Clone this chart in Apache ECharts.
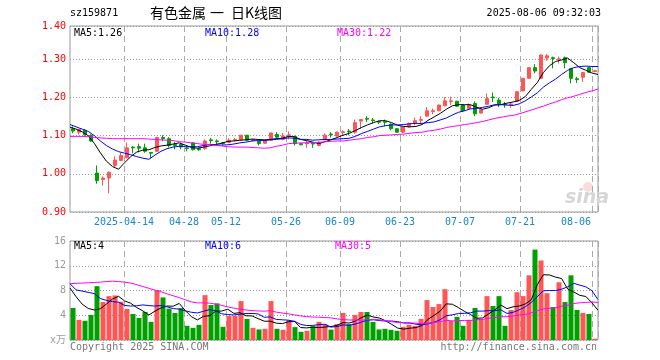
<!DOCTYPE html>
<html><head><meta charset="utf-8">
<script src="https://cdn.jsdelivr.net/npm/echarts@6/dist/echarts.min.js"></script>
<style>html,body{margin:0;padding:0;background:#fff}#c{width:660px;height:360px}</style>
</head><body><div id="c"></div>
<script>
const dates = ['2025-03-31','2025-04-01','2025-04-02','2025-04-03','2025-04-07','2025-04-08','2025-04-09','2025-04-10','2025-04-11','2025-04-14',
'2025-04-15','2025-04-16','2025-04-17','2025-04-18','2025-04-21','2025-04-22','2025-04-23','2025-04-24','2025-04-25','2025-04-28',
'2025-04-29','2025-04-30','2025-05-06','2025-05-07','2025-05-08','2025-05-09','2025-05-12','2025-05-13','2025-05-14','2025-05-15',
'2025-05-16','2025-05-19','2025-05-20','2025-05-21','2025-05-22','2025-05-23','2025-05-26','2025-05-27','2025-05-28','2025-05-29',
'2025-05-30','2025-06-03','2025-06-04','2025-06-05','2025-06-06','2025-06-09','2025-06-10','2025-06-11','2025-06-12','2025-06-13',
'2025-06-16','2025-06-17','2025-06-18','2025-06-19','2025-06-20','2025-06-23','2025-06-24','2025-06-25','2025-06-26','2025-06-27',
'2025-06-30','2025-07-01','2025-07-02','2025-07-03','2025-07-04','2025-07-07','2025-07-08','2025-07-09','2025-07-10','2025-07-11',
'2025-07-14','2025-07-15','2025-07-16','2025-07-17','2025-07-18','2025-07-21','2025-07-22','2025-07-23','2025-07-24','2025-07-25',
'2025-07-28','2025-07-29','2025-07-30','2025-07-31','2025-08-01','2025-08-04','2025-08-05','2025-08-06'];

const opens = [1.118,1.109,1.114,1.101,1.002,0.985,0.989,1.022,1.035,1.042,
1.070,1.071,1.068,1.056,1.059,1.095,1.092,1.077,1.077,1.068,
1.081,1.066,1.066,1.089,1.086,1.082,1.082,1.088,1.089,1.101,
1.087,1.085,1.080,1.088,1.103,1.090,1.100,1.098,1.079,1.079,
1.080,1.074,1.089,1.104,1.099,1.108,1.112,1.109,1.138,1.145,
1.141,1.137,1.137,1.130,1.118,1.109,1.123,1.132,1.140,1.151,
1.163,1.165,1.178,1.189,1.190,1.180,1.171,1.184,1.159,1.182,
1.201,1.193,1.183,1.181,1.190,1.217,1.250,1.278,1.250,1.303,
1.304,1.299,1.304,1.276,1.249,1.253,1.278,1.268];

const closes = [1.112,1.116,1.102,1.086,0.982,0.989,1.004,1.036,1.048,1.068,
1.068,1.067,1.059,1.054,1.095,1.092,1.074,1.074,1.070,1.066,
1.063,1.063,1.086,1.087,1.084,1.079,1.088,1.090,1.101,1.088,
1.090,1.079,1.086,1.107,1.096,1.099,1.102,1.079,1.076,1.081,
1.078,1.083,1.101,1.102,1.109,1.110,1.110,1.134,1.142,1.143,
1.139,1.135,1.135,1.118,1.109,1.123,1.132,1.139,1.142,1.165,
1.165,1.180,1.191,1.191,1.177,1.165,1.180,1.157,1.168,1.197,
1.199,1.182,1.181,1.183,1.215,1.250,1.278,1.269,1.311,1.309,
1.302,1.301,1.291,1.250,1.247,1.265,1.266,1.270];

const lows = [1.106,1.103,1.100,1.083,0.974,0.969,0.949,1.017,1.033,1.040,
1.054,1.056,1.055,1.040,1.058,1.085,1.069,1.064,1.064,1.059,
1.061,1.060,1.063,1.079,1.077,1.076,1.080,1.085,1.088,1.087,
1.085,1.074,1.079,1.087,1.092,1.088,1.090,1.074,1.075,1.068,
1.068,1.073,1.088,1.095,1.098,1.101,1.101,1.105,1.118,1.136,
1.132,1.130,1.124,1.114,1.107,1.107,1.121,1.127,1.132,1.150,
1.156,1.164,1.177,1.180,1.176,1.163,1.167,1.151,1.158,1.181,
1.188,1.175,1.173,1.173,1.189,1.216,1.249,1.263,1.249,1.296,
1.276,1.289,1.276,1.237,1.238,1.241,1.265,1.266];

const highs = [1.124,1.118,1.117,1.103,1.022,0.993,1.006,1.046,1.055,1.082,
1.072,1.079,1.079,1.057,1.096,1.101,1.096,1.083,1.081,1.073,
1.083,1.068,1.090,1.094,1.090,1.083,1.093,1.094,1.102,1.102,
1.091,1.087,1.088,1.108,1.109,1.107,1.111,1.100,1.080,1.088,
1.083,1.085,1.106,1.109,1.111,1.114,1.117,1.142,1.143,1.151,
1.146,1.139,1.142,1.132,1.120,1.124,1.134,1.147,1.151,1.175,
1.171,1.181,1.201,1.202,1.191,1.181,1.184,1.190,1.170,1.210,
1.213,1.199,1.188,1.187,1.217,1.251,1.279,1.287,1.313,1.313,
1.307,1.307,1.307,1.277,1.254,1.266,1.279,1.272];

const ma5 = [1.122,1.117,1.110,1.100,1.080,1.055,1.033,1.019,1.012,1.029,
1.045,1.057,1.062,1.063,1.069,1.073,1.075,1.078,1.081,1.075,
1.069,1.067,1.070,1.073,1.077,1.080,1.085,1.086,1.088,1.089,
1.091,1.090,1.089,1.090,1.092,1.093,1.098,1.097,1.090,1.087,
1.083,1.079,1.084,1.089,1.095,1.101,1.106,1.113,1.121,1.128,
1.134,1.139,1.139,1.134,1.127,1.124,1.123,1.124,1.129,1.140,
1.149,1.158,1.169,1.178,1.181,1.181,1.181,1.174,1.169,1.173,
1.180,1.181,1.185,1.188,1.192,1.202,1.221,1.239,1.265,1.283,
1.294,1.298,1.303,1.291,1.278,1.271,1.264,1.260];

const ma10 = [1.129,1.123,1.117,1.111,1.100,1.086,1.074,1.065,1.058,1.054,
1.050,1.045,1.041,1.038,1.049,1.059,1.066,1.070,1.072,1.072,
1.071,1.071,1.074,1.077,1.076,1.075,1.076,1.078,1.081,1.083,
1.086,1.087,1.087,1.089,1.090,1.092,1.094,1.093,1.090,1.090,
1.088,1.089,1.090,1.090,1.091,1.092,1.093,1.098,1.105,1.111,
1.117,1.123,1.126,1.128,1.128,1.129,1.131,1.132,1.132,1.134,
1.136,1.141,1.146,1.154,1.161,1.165,1.170,1.171,1.174,1.177,
1.181,1.181,1.180,1.179,1.183,1.191,1.201,1.212,1.227,1.238,
1.248,1.260,1.271,1.278,1.281,1.282,1.281,1.281];

const ma30 = [1.098,1.098,1.098,1.097,1.095,1.094,1.093,1.092,1.092,1.092,
1.092,1.092,1.092,1.091,1.090,1.089,1.088,1.087,1.084,1.083,
1.081,1.079,1.077,1.076,1.074,1.073,1.071,1.070,1.070,1.070,
1.069,1.068,1.067,1.068,1.072,1.075,1.079,1.080,1.081,1.081,
1.082,1.082,1.084,1.085,1.086,1.086,1.088,1.090,1.092,1.095,
1.097,1.100,1.101,1.102,1.103,1.104,1.106,1.108,1.109,1.112,
1.114,1.117,1.121,1.124,1.126,1.129,1.131,1.134,1.137,1.141,
1.145,1.148,1.151,1.153,1.157,1.162,1.167,1.172,1.177,1.183,
1.188,1.194,1.199,1.203,1.208,1.213,1.217,1.222];

const volumes = [5.17,3.25,3.10,4.05,8.70,6.13,7.09,7.20,6.19,5.01,
4.21,3.57,4.53,2.93,8.05,6.88,5.07,4.37,5.17,2.29,
1.97,2.45,7.25,5.65,5.92,2.13,3.89,3.89,6.29,3.41,
1.97,1.71,1.81,6.29,1.81,1.65,3.20,2.08,1.33,1.49,
2.24,2.93,2.51,1.68,2.56,4.37,2.56,4.05,4.53,4.53,
2.93,1.71,1.81,1.65,1.49,2.13,2.45,2.29,3.41,6.45,
5.33,5.81,8.21,3.09,3.73,2.29,3.25,5.17,3.41,7.09,
5.49,7.09,2.29,4.85,7.73,7.09,10.45,14.61,12.85,7.57,
5.33,9.33,6.13,10.45,4.85,4.37,4.21,0.21];

const vma5 = [8.40,7.00,5.80,5.10,4.85,5.05,5.81,6.63,7.06,6.32,
5.94,5.24,4.70,4.05,4.66,5.19,5.49,5.46,5.91,4.76,
3.77,3.25,3.83,3.92,4.65,4.68,4.97,4.30,4.42,3.92,
3.89,3.45,3.04,3.04,2.72,2.65,2.95,3.01,2.01,1.95,
2.07,2.01,2.10,2.17,2.38,2.81,2.74,3.04,3.61,4.01,
3.72,3.55,3.10,2.53,1.92,1.76,1.91,2.00,2.35,3.35,
3.99,4.66,5.84,5.78,5.23,4.63,4.11,3.51,3.57,4.24,
4.88,5.65,5.07,5.36,5.49,5.81,6.48,8.95,10.55,10.51,
10.16,9.94,8.24,7.76,7.22,7.03,6.00,4.82];

const vma10 = [9.10,8.10,7.90,7.70,7.50,6.70,6.40,6.20,6.10,5.59,
5.49,5.53,5.67,5.56,5.49,5.57,5.36,5.08,4.98,4.71,
4.48,4.37,4.64,4.92,4.70,4.23,4.11,4.06,4.17,4.29,
4.29,4.21,3.67,3.73,3.32,3.27,3.20,3.02,2.53,2.33,
2.36,2.48,2.55,2.09,2.17,2.44,2.38,2.57,2.89,3.20,
3.27,3.14,3.07,3.07,2.96,2.74,2.73,2.55,2.44,2.63,
2.87,3.28,3.92,4.07,4.29,4.31,4.39,4.67,4.67,4.74,
4.75,4.88,4.29,4.47,4.87,5.35,6.07,7.01,7.95,8.00,
7.99,8.21,8.59,9.15,8.87,8.59,7.97,6.53];

const vma30 = [9.10,9.15,9.20,9.25,9.30,9.35,9.45,9.50,9.45,9.35,
9.20,8.95,8.65,8.35,8.05,7.80,7.45,7.15,6.85,6.50,
6.15,6.00,6.00,5.95,5.80,5.60,5.35,5.15,4.95,4.86,
4.75,4.70,4.66,4.73,4.50,4.36,4.23,4.05,3.89,3.78,
3.71,3.69,3.62,3.58,3.40,3.31,3.23,3.22,3.20,3.27,
3.30,3.28,3.10,2.96,2.82,2.82,2.77,2.72,2.62,2.72,
2.83,2.97,3.18,3.08,3.14,3.16,3.16,3.27,3.34,3.52,
3.63,3.77,3.76,3.87,4.04,4.13,4.39,4.75,5.02,5.12,
5.20,5.46,5.60,5.90,6.01,6.08,6.14,6.07];

const labelDates = ['2025-04-14','2025-04-28','2025-05-12','2025-05-26','2025-06-09','2025-06-23','2025-07-07','2025-07-21','2025-08-06'];
const priceMin = 0.9, priceMax = 1.387, priceStep = 0.1, priceTopLabel = '1.40';
const volMin = 0, volMax = 16, volStep = 4, volUnit = 'x万';
const headerCode = 'sz159871', headerTitle = ['有色金属', '一', '日K线图'], headerTime = '2025-08-06 09:32:03';
const priceLegend = ['MA5:1.26','MA10:1.28','MA30:1.22'];
const volLegend = ['MA5:4','MA10:6','MA30:5'];
const copyText = 'Copyright 2025 SINA.COM', urlText = 'http://finance.sina.com.cn';

const UP = '#ff5555', DOWN = '#00a000';
const C5 = '#000000', C10 = '#0000ff', C30 = '#ff00ff';
const MONO = '"DejaVu Sans Mono", "Noto Sans CJK SC", monospace';
const CJK = '14px "Noto Sans CJK SC"';
const XCOL = '#1a86d0';

const labelSet = new Set(labelDates.map(d => dates.indexOf(d)));
const firstLabel = dates.indexOf(labelDates[0]);
const lastIdx = dates.length - 1;

const chart = echarts.init(document.getElementById('c'), null, {renderer: 'canvas'});

const vSplit = {show: true, interval: (i) => labelSet.has(i), lineStyle: {color: '#aaaaaa', type: [6, 4], width: 1}};
const hSplit = {show: true, lineStyle: {color: '#999999', type: [1, 2], width: 1}};

function txt(text, x, y, fill, font, align) {
  return {type: 'text', x: x, y: y, silent: true, z: 100,
    style: {text: text, fill: fill, font: font, textAlign: align || 'left', textVerticalAlign: 'middle', align: align || 'left', verticalAlign: 'middle'}};
}

const option = {
  animation: false,
  backgroundColor: '#ffffff',
  grid: [
    {left: 70, right: 62, top: 26, height: 186, show: true, borderColor: '#999999', borderWidth: 1},
    {left: 70, right: 62, top: 241, height: 99, show: true, borderColor: '#999999', borderWidth: 1}
  ],
  xAxis: [
    {type: 'category', gridIndex: 0, data: dates, boundaryGap: true,
      axisLine: {show: false}, axisTick: {show: false},
      axisLabel: {interval: (i) => labelSet.has(i), margin: 5, color: XCOL, fontFamily: MONO, fontSize: 10,
        formatter: (v, i) => {
          const t = (i === firstLabel) ? v : v.slice(5);
          return (i === lastIdx) ? '{e|' + t + '}' : '{n|' + t + '}';
        },
        rich: {
          n: {padding: [0, 6, 0, 0], color: XCOL, fontFamily: MONO, fontSize: 10},
          e: {padding: [0, 38, 0, 0], color: XCOL, fontFamily: MONO, fontSize: 10}
        }},
      splitLine: vSplit},
    {type: 'category', gridIndex: 0, data: dates, boundaryGap: false, show: false},
    {type: 'category', gridIndex: 1, data: dates, boundaryGap: true,
      axisLine: {show: false}, axisTick: {show: false}, axisLabel: {show: false}, splitLine: vSplit},
    {type: 'category', gridIndex: 1, data: dates, boundaryGap: false, show: false}
  ],
  yAxis: [
    {type: 'value', gridIndex: 0, min: priceMin, max: priceMax, interval: priceStep, scale: false,
      axisLine: {show: false}, axisTick: {show: false},
      axisLabel: {color: '#ff0000', fontFamily: MONO, fontSize: 10, margin: 4,
        formatter: (v) => (v > priceMax - 0.001) ? priceTopLabel : v.toFixed(2)},
      splitLine: hSplit},
    {type: 'value', gridIndex: 1, min: volMin, max: volMax, interval: volStep,
      axisLine: {show: false}, axisTick: {show: false},
      axisLabel: {color: '#999999', fontFamily: MONO, fontSize: 10, margin: 4,
        formatter: (v) => v === 0 ? volUnit : String(v)},
      splitLine: hSplit}
  ],
  series: [
    {type: 'candlestick', xAxisIndex: 0, yAxisIndex: 0, barWidth: 4,
      data: opens.map((o, i) => [o, closes[i], lows[i], highs[i]]),
      itemStyle: {color: UP, color0: DOWN, borderColor: UP, borderColor0: DOWN, borderWidth: 1}, z: 2},
    {type: 'line', xAxisIndex: 1, yAxisIndex: 0, data: ma5, symbol: 'none', lineStyle: {color: C5, width: 1}, z: 5},
    {type: 'line', xAxisIndex: 1, yAxisIndex: 0, data: ma10, symbol: 'none', lineStyle: {color: C10, width: 1}, z: 5},
    {type: 'line', xAxisIndex: 1, yAxisIndex: 0, data: ma30, symbol: 'none', lineStyle: {color: C30, width: 1}, z: 5},
    {type: 'bar', xAxisIndex: 2, yAxisIndex: 1, barWidth: 5,
      data: volumes.map((v, i) => ({value: v, itemStyle: {color: closes[i] >= opens[i] ? UP : DOWN}})), z: 2},
    {type: 'line', xAxisIndex: 3, yAxisIndex: 1, data: vma5, symbol: 'none', lineStyle: {color: C5, width: 1}, z: 5},
    {type: 'line', xAxisIndex: 3, yAxisIndex: 1, data: vma10, symbol: 'none', lineStyle: {color: C10, width: 1}, z: 5},
    {type: 'line', xAxisIndex: 3, yAxisIndex: 1, data: vma30, symbol: 'none', lineStyle: {color: C30, width: 1}, z: 5}
  ],
  graphic: [
    txt(headerCode, 70, 13, '#000', '10px ' + MONO),
    txt(headerTitle[0], 150, 13, '#000', CJK),
    txt(headerTitle[1], 210, 13, '#000', CJK),
    txt(headerTitle[2], 231, 13, '#000', CJK),
    txt(headerTime, 601, 13, '#000', '10px ' + MONO, 'right'),
    txt(priceLegend[0], 74, 33, C5, '10px ' + MONO),
    txt(priceLegend[1], 205, 33, C10, '10px ' + MONO),
    txt(priceLegend[2], 337, 33, C30, '10px ' + MONO),
    txt(volLegend[0], 74, 246, C5, '10px ' + MONO),
    txt(volLegend[1], 205, 246, C10, '10px ' + MONO),
    txt(volLegend[2], 335, 246, C30, '10px ' + MONO),
    txt(copyText, 70, 347, '#777', '10px ' + MONO),
    txt(urlText, 597, 347, '#777', '10px ' + MONO, 'right'),
    {type: 'circle', shape: {cx: 588, cy: 187, r: 5}, style: {fill: 'rgba(230,120,120,0.25)'}, silent: true, z: 1},
    {type: 'text', x: 565, y: 198, silent: true, z: 1,
      style: {text: 'sina', fill: '#d6d6d6', font: 'italic bold 19px "DejaVu Sans"', textVerticalAlign: 'middle', verticalAlign: 'middle'}}
  ]
};
chart.setOption(option);
</script>
</body></html>
